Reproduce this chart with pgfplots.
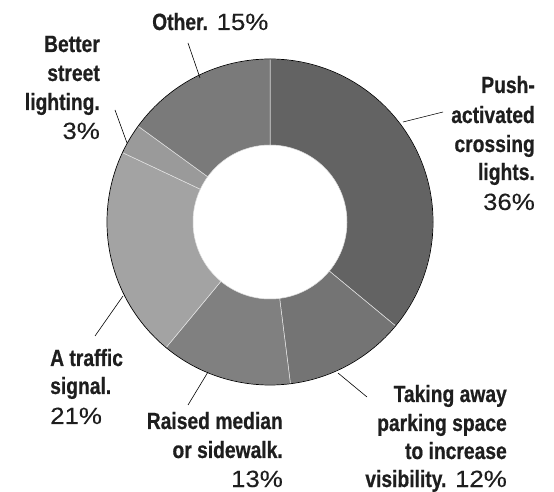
\documentclass[border=0pt]{standalone}
\usepackage{pgfplots}
\usepackage{pgfplotstable}
\pgfplotsset{compat=1.18}
\usepackage{fontspec}
\setmainfont{Liberation Sans}
\newfontfamily\bcond[FakeStretch=0.82,FakeBold=0.6]{Liberation Sans}
\newfontfamily\rwide[FakeStretch=1.1,FakeBold=0.2]{Liberation Sans}
\newcommand{\B}[1]{{\bcond\bfseries #1}}
\newcommand{\R}[1]{{\rwide #1}}
\definecolor{txt}{RGB}{30,30,30}

\pgfplotstableread{
value gray
36 99
12 116
13 128
21 163
3 154
15 122
}\slices

\begin{document}
\begin{tikzpicture}
\useasboundingbox (0,0) rectangle (554bp,492bp);
\begin{axis}[at={(0,0)}, anchor=south west, width=554bp, height=492bp,
  scale only axis, xmin=0, xmax=554, ymin=0, ymax=492, hide axis, clip=false]
\pgfplotstablegetrowsof{\slices}
\pgfmathtruncatemacro\N{\pgfplotsretval-1}
\def\acc{90}
\pgfplotsforeachungrouped \i in {0,...,\N}{
  \pgfplotstablegetelem{\i}{value}\of\slices \let\v\pgfplotsretval
  \pgfplotstablegetelem{\i}{gray}\of\slices \let\g\pgfplotsretval
  \pgfmathsetmacro\endang{\acc-3.6*\v}
  \definecolor{slc\i}{RGB}{\g,\g,\g}
  \edef\temp{\noexpand\fill[slc\i, draw=white!80!gray, line width=0.5pt]
    ([shift={(\acc:163bp)}]axis cs:270,270)
    arc[start angle=\acc, end angle=\endang, radius=163bp]
    -- ([shift={(\endang:77bp)}]axis cs:270,270)
    arc[start angle=\endang, end angle=\acc, radius=77bp] -- cycle;}
  \temp
  \let\acc\endang
}
\draw[black, line width=0.7pt] (axis cs:270,270) circle[radius=163bp];
% leader lines
\draw[black, line width=0.6pt] (axis cs:403,370) -- (axis cs:443,380);
\draw[black, line width=0.6pt] (axis cs:338,119) -- (axis cs:367,95);
\draw[black, line width=0.6pt] (axis cs:208,120) -- (axis cs:188,87);
\draw[black, line width=0.6pt] (axis cs:123,196) -- (axis cs:95,156);
\draw[black, line width=0.6pt] (axis cs:127,349) -- (axis cs:115,382);
\draw[black, line width=0.6pt] (axis cs:188,449) -- (axis cs:200,414);
% labels
\begin{scope}[every node/.style={inner sep=0pt, text=txt, font=\fontsize{23.5bp}{29bp}\selectfont}]
\node[anchor=base east] at (axis cs:535,399) {\B{Push-}};
\node[anchor=base east] at (axis cs:535,369) {\B{activated}};
\node[anchor=base east] at (axis cs:535,340) {\B{crossing}};
\node[anchor=base east] at (axis cs:535,312) {\B{lights.}};
\node[anchor=base east] at (axis cs:535,282) {\R{36\%}};
\node[anchor=base east] at (axis cs:507,90) {\B{Taking away}};
\node[anchor=base east] at (axis cs:507,61) {\B{parking space}};
\node[anchor=base east] at (axis cs:507,33) {\B{to increase}};
\node[anchor=base east] at (axis cs:507,5) {\B{visibility.} \R{12\%}};
\node[anchor=base east] at (axis cs:283,63) {\B{Raised median}};
\node[anchor=base east] at (axis cs:283,34) {\B{or sidewalk.}};
\node[anchor=base east] at (axis cs:283,5) {\R{13\%}};
\node[anchor=base west] at (axis cs:50,126) {\B{A traffic}};
\node[anchor=base west] at (axis cs:50,98) {\B{signal.}};
\node[anchor=base west] at (axis cs:50,68) {\R{21\%}};
\node[anchor=base east] at (axis cs:100,440) {\B{Better}};
\node[anchor=base east] at (axis cs:100,411) {\B{street}};
\node[anchor=base east] at (axis cs:100,382) {\B{lighting.}};
\node[anchor=base east] at (axis cs:100,353) {\R{3\%}};
\node[anchor=base west] at (axis cs:152,462) {\B{Other.} \R{15\%}};
\end{scope}
\end{axis}
\end{tikzpicture}
\end{document}
